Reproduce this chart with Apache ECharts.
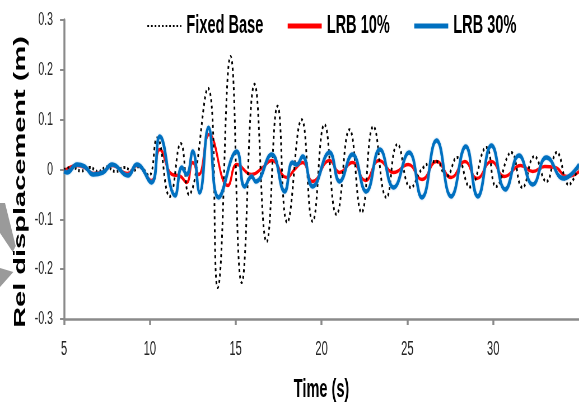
<!DOCTYPE html>
<html><head><meta charset="utf-8">
<script src="https://cdn.jsdelivr.net/npm/echarts@6/dist/echarts.min.js"></script>
<style>
html,body{margin:0;padding:0;overflow:hidden;background:#fff;width:579px;height:408px;}
#wrap{width:579px;height:408px;overflow:hidden;position:relative;}
#chart{position:absolute;left:0;top:0;width:1034px;height:408px;transform:scaleX(0.56);transform-origin:0 0;}
</style></head><body><div id="wrap"><div id="chart"></div></div>
<script>
// The reference is a horizontally squeezed chart: the chart is laid out wide and squeezed by S.
const S = 0.56;

const seriesNames = ['Fixed Base', 'LRB 10%', 'LRB 30%'];
const xAxisTitle = 'Time (s)';
const yAxisTitle = 'Rel displacement (m)';

const fixedBaseT = [5.0,5.5,6.0,6.5,7.0,7.5,8.0,8.5,9.0,9.4,9.95,10.42,11.16,11.8,12.27,13.38,13.95,14.7,15.35,16.1,16.8,17.44,18.0,18.84,19.48,20.17,20.87,21.63,22.33,23.02,23.78,24.42,25.2,25.9,26.7,27.27,27.9,28.65,29.6,30.17,31.05,31.7,32.4,33.1,33.7,34.4,35.0];
const fixedBaseV = [0,0.004,-0.003,0.004,-0.004,0.005,-0.004,0.004,-0.003,0.006,-0.012,0.063,-0.054,0.052,-0.05,0.163,-0.237,0.227,-0.227,0.171,-0.145,0.127,-0.106,0.100,-0.104,0.090,-0.090,0.080,-0.086,0.086,-0.056,0.050,-0.036,0.003,0.016,-0.014,0.024,-0.035,0.044,-0.034,0.034,-0.036,0.026,-0.024,0.034,-0.030,0.010];

const lrb10T = [5.0,5.75,6.2,6.7,7.25,7.8,8.7,9.24,10.1,10.58,11.3,11.75,12.15,12.5,12.85,13.45,14.55,15.06,15.93,16.57,17.1,17.97,18.43,18.9,19.48,20.47,21.05,21.8,22.55,23.35,24.2,25.05,25.85,26.7,27.55,28.35,29.05,29.9,30.65,31.6,32.3,33.0,33.6,34.3,35.0];
const lrb10V = [-0.004,0.008,0.004,-0.008,-0.005,0.008,-0.008,0.008,-0.022,0.04,-0.01,-0.013,-0.026,0.014,-0.01,0.07,-0.032,0.01,-0.01,0.004,0.018,-0.016,0.0,0.014,-0.024,0.018,-0.006,0.014,-0.022,0.018,-0.006,0.01,-0.02,0.016,-0.016,0.016,-0.018,0.016,-0.014,0.008,-0.004,0.006,0.004,-0.014,-0.004];

const lrb30T = [5.0,5.17,5.76,6.2,6.7,7.27,7.8,8.72,9.24,10.1,10.58,11.47,11.86,12.15,12.5,12.9,13.42,14.0,15.06,15.52,15.93,16.16,17.1,17.85,18.3,18.55,18.9,19.48,20.47,21.05,21.8,22.6,23.4,24.2,25.1,25.85,26.7,27.55,28.4,29.1,29.9,30.7,31.5,32.3,33.1,34.1,35.0];
const lrb30V = [-0.004,-0.006,0.01,0.006,-0.01,-0.006,0.01,-0.012,0.01,-0.026,0.066,-0.052,0.004,-0.01,0.036,-0.046,0.084,-0.056,0.036,-0.034,-0.014,-0.024,0.03,-0.044,0.014,0.01,0.026,-0.034,0.034,-0.024,0.03,-0.044,0.04,-0.036,0.034,-0.056,0.058,-0.054,0.046,-0.054,0.048,-0.04,0.028,-0.03,0.024,-0.018,0.01];

const xMin = 5, xMax = 35, xStep = 5;
const yMin = -0.3, yMax = 0.3, yStep = 0.1;

function zip(t, v) { return t.map((x, i) => [x, v[i]]); }
const W = px => px / S; // actual horizontal pixels -> layout pixels

const FONT = "'Liberation Sans', Arial, sans-serif";
const chart = echarts.init(document.getElementById('chart'), null, {renderer: 'canvas'});

chart.setOption({
  backgroundColor: '#ffffff',
  animation: false,
  textStyle: {fontFamily: FONT},
  grid: {left: W(64), right: 0, top: 20, bottom: 89, containLabel: false},
  legend: {
    left: W(144), top: 8, itemGap: W(23), itemWidth: W(34), itemHeight: 14,
    itemStyle: {opacity: 0},
    textStyle: {fontFamily: FONT, fontWeight: 'bold', fontSize: 26, lineHeight: 26, color: '#000', padding: [0,0,0,4]},
    data: [
      {name: seriesNames[0]},
      {name: seriesNames[1], lineStyle: {width: 5}},
      {name: seriesNames[2], lineStyle: {width: 5}}
    ]
  },
  xAxis: {
    type: 'value', min: xMin, max: xMax, interval: xStep,
    name: xAxisTitle, nameLocation: 'middle', nameGap: 58,
    nameTextStyle: {fontFamily: FONT, fontWeight: 'bold', fontSize: 26, color: '#000'},
    axisLine: {onZero: false, lineStyle: {color: '#8a8a8a', width: 2.5}},
    axisTick: {show: true, inside: false, length: 6, lineStyle: {color: '#8a8a8a', width: 3.5}},
    axisLabel: {margin: 20, fontSize: 20, color: '#262626', fontFamily: FONT, showMaxLabel: false},
    splitLine: {show: false}
  },
  yAxis: {
    type: 'value', min: yMin, max: yMax, interval: yStep,
    name: yAxisTitle, nameLocation: 'middle', nameGap: 49, nameRotate: 90,
    nameTextStyle: {fontFamily: FONT, fontWeight: 'bold', fontSize: 29, color: '#000', padding: [0, 25, 0, 0]},
    axisLine: {show: true, onZero: false, lineStyle: {color: '#8a8a8a', width: 3.5}},
    axisTick: {show: true, inside: false, length: W(4), lineStyle: {color: '#8a8a8a', width: 2}},
    axisLabel: {margin: W(11), fontSize: 19, color: '#262626', fontFamily: FONT,
      formatter: v => (Math.abs(v) < 1e-9 ? '0' : String(Math.round(v * 10) / 10))},
    splitLine: {show: false}
  },
  graphic: [
    {type: 'polygon', silent: true, z: 0,
      shape: {points: [[0,203],[W(5),203],[W(15.7),246],[W(12.7),252],[0,233]]},
      style: {fill: '#9a9a9a'}},
    {type: 'polygon', silent: true, z: 0,
      shape: {points: [[0,268],[W(13.3),272],[0,287]]},
      style: {fill: '#9a9a9a'}}
  ],
  series: [
    {name: seriesNames[0], type: 'line', data: zip(fixedBaseT, fixedBaseV), smooth: 0.5,
      showSymbol: false, symbol: 'none', z: 3,
      lineStyle: {color: '#000000', width: 3, type: [3, 3.5], cap: 'butt'},
      itemStyle: {color: '#000000'}},
    {name: seriesNames[1], type: 'line', data: zip(lrb10T, lrb10V), smooth: 0.5,
      showSymbol: false, symbol: 'none', z: 2,
      lineStyle: {color: '#ff0000', width: 3.5},
      itemStyle: {color: '#ff0000'}},
    {name: seriesNames[2], type: 'line', data: zip(lrb30T, lrb30V), smooth: 0.5,
      showSymbol: false, symbol: 'none', z: 3,
      lineStyle: {color: '#0070c0', width: 4.5, shadowColor: 'rgba(120,180,230,0.8)', shadowBlur: 2},
      itemStyle: {color: '#0070c0'}}
  ]
});
</script></body></html>
